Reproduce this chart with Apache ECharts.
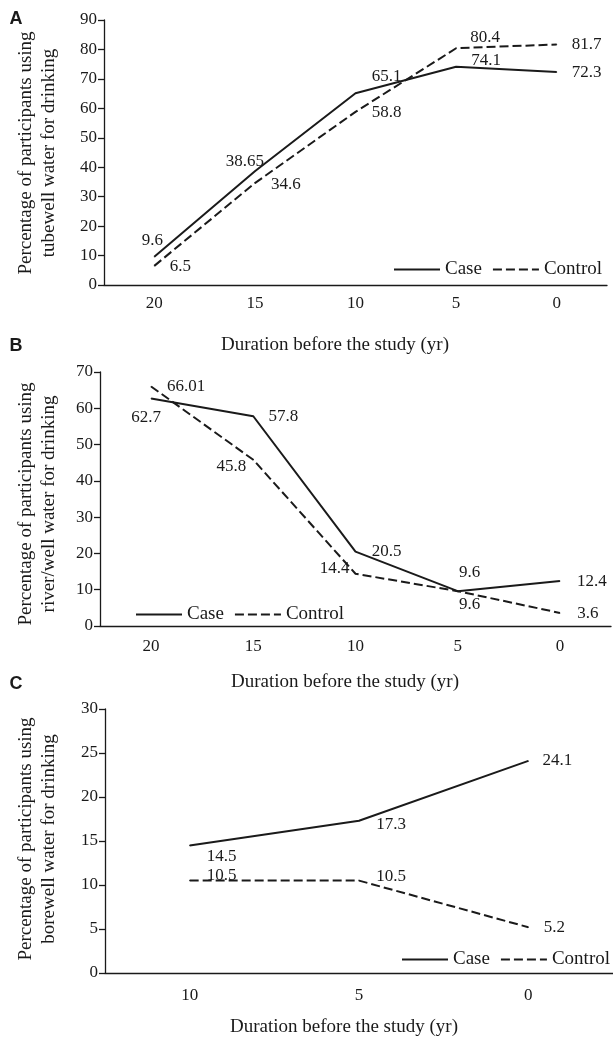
<!DOCTYPE html>
<html>
<head>
<meta charset="utf-8">
<script src="https://cdn.jsdelivr.net/npm/echarts@6/dist/echarts.min.js"></script>
<style>
  html, body { margin: 0; padding: 0; background: #fff; }
  #chart { width: 613px; height: 1038px; }
</style>
</head>
<body>
<div id="chart"></div>
<script>
// panel A: tubewell, panel B: river/well, panel C: borewell
const years = ['20', '15', '10', '5', '0'];
const tubewellCase = [9.6, 38.65, 65.1, 74.1, 72.3];
const tubewellControl = [6.5, 34.6, 58.8, 80.4, 81.7];

const riverCase = [62.7, 57.8, 20.5, 9.6, 12.4];
const riverControl = [66.01, 45.8, 14.4, 9.6, 3.6];

const boreYears = ['10', '5', '0'];
const boreCase = [14.5, 17.3, 24.1];
const boreControl = [10.5, 10.5, 5.2];

// where each value label sits relative to its point (px)
const offA1 = [[-2, -16], [-10, -10], [31, -17], [30, -6], [30, 0]];
const offA2 = [[26, 1], [31, 1], [31, 1], [29, -11], [30, 0]];
const offB1 = [[-5, 19], [30, 0], [31, 0], [12, -19], [32, 1]];
const offB2 = [[35, 0], [-22, 7], [-21, -5], [12, 13], [28, 1]];
const offC1 = [[32, 11], [32, 4], [29, 0]];
const offC2 = [[32, -5], [32, -4], [26, 0]];

const FONT = 'Liberation Serif, Times New Roman, serif';
const INK = '#1a1a1a';

const chart = echarts.init(document.getElementById('chart'));

function xAxis(idx, cats, margin) {
  return {
    type: 'category',
    gridIndex: idx,
    data: cats,
    boundaryGap: true,
    axisLine: { lineStyle: { color: INK, width: 1.3 } },
    axisTick: { alignWithLabel: true, length: 5, lineStyle: { color: INK, width: 1.3 } },
    axisLabel: { color: INK, fontFamily: FONT, fontSize: 17, margin: margin },
    splitLine: { show: false }
  };
}

function yAxis(idx, max, step) {
  return {
    type: 'value',
    gridIndex: idx,
    min: 0,
    max: max,
    interval: step,
    axisLine: { show: true, lineStyle: { color: INK, width: 1.3 } },
    axisTick: { show: true, length: 6, lineStyle: { color: INK, width: 1.3 } },
    axisLabel: { color: INK, fontFamily: FONT, fontSize: 17, margin: 7 },
    splitLine: { show: false }
  };
}

function lineSeries(name, idx, values, offsets, dashed) {
  return {
    name: name,
    type: 'line',
    xAxisIndex: idx,
    yAxisIndex: idx,
    symbol: 'circle',
    symbolSize: 1,
    itemStyle: { color: INK },
    lineStyle: { color: INK, width: 2, type: dashed ? [9, 4] : 'solid' },
    label: {
      show: true,
      position: 'inside',
      color: INK,
      fontFamily: FONT,
      fontSize: 17
    },
    data: values.map((v, i) => ({ value: v, label: { offset: offsets[i] } })),
    animation: false
  };
}

function legend(left, top) {
  return {
    data: ['Case', 'Control'],
    left: left,
    top: top,
    width: 300,
    padding: 0,
    itemWidth: 46,
    itemHeight: 14,
    itemGap: 10,
    itemStyle: { opacity: 0 },
    textStyle: { color: INK, fontFamily: FONT, fontSize: 19 }
  };
}

function text(str, x, y, opts) {
  return Object.assign({
    type: 'text',
    x: x,
    y: y,
    style: {
      text: str,
      fill: INK,
      font: '19px ' + FONT,
      align: 'center',
      verticalAlign: 'middle',
      lineHeight: 23
    }
  }, opts || {});
}

function yTitle(str, x, y) {
  return text(str, x, y, { rotation: Math.PI / 2 });
}

function letter(str, x, y) {
  return {
    type: 'text',
    x: x,
    y: y,
    style: {
      text: str,
      fill: INK,
      font: 'bold 18px Liberation Sans, Arial, sans-serif',
      align: 'center',
      verticalAlign: 'middle'
    }
  };
}

chart.setOption({
  backgroundColor: '#fff',
  animation: false,
  grid: [
    { left: 104, top: 20, width: 503, height: 265 },
    { left: 100, top: 372, width: 511, height: 254 },
    { left: 105, top: 709, width: 508, height: 264 }
  ],
  xAxis: [xAxis(0, years, 10), xAxis(1, years, 12), xAxis(2, boreYears, 14)],
  yAxis: [yAxis(0, 90, 10), yAxis(1, 70, 10), yAxis(2, 30, 5)],
  legend: [legend(393, 260), legend(135, 605), legend(401, 950)],
  series: [
    lineSeries('Case', 0, tubewellCase, offA1, false),
    lineSeries('Control', 0, tubewellControl, offA2, true),
    lineSeries('Case', 1, riverCase, offB1, false),
    lineSeries('Control', 1, riverControl, offB2, true),
    lineSeries('Case', 2, boreCase, offC1, false),
    lineSeries('Control', 2, boreControl, offC2, true)
  ],
  graphic: [
    letter('A', 16, 19),
    letter('B', 16, 346),
    letter('C', 16, 684),
    yTitle('Percentage of participants using\ntubewell water for drinking', 38, 153),
    yTitle('Percentage of participants using\nriver/well water for drinking', 38, 504),
    yTitle('Percentage of participants using\nborewell water for drinking', 38, 839),
    text('Duration before the study (yr)', 335, 345),
    text('Duration before the study (yr)', 345, 682),
    text('Duration before the study (yr)', 344, 1027)
  ]
});
</script>
</body>
</html>
